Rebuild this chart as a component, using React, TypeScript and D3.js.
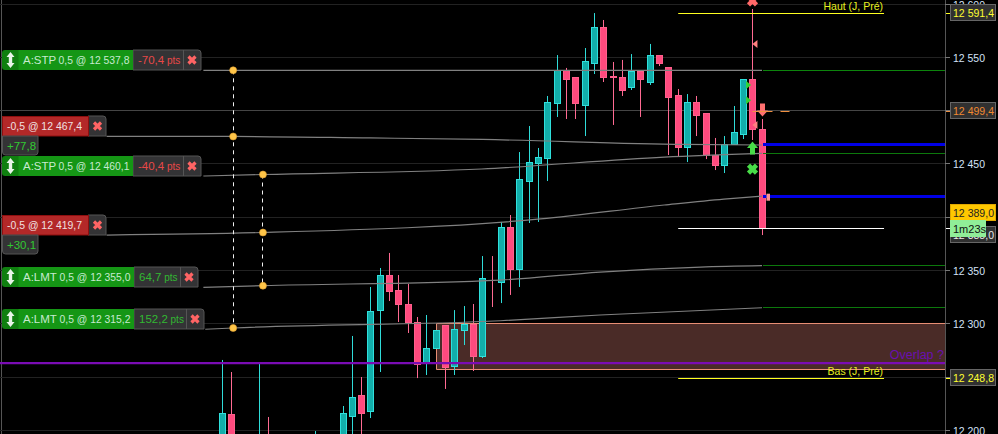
import React from "react";
import * as d3 from "d3";

const W = 998, H = 434;
const FONT = "'Liberation Sans', Arial, sans-serif";

// Candles (bar index, OHLC)
const bars = [0,1,4,5,10,13,14,15,16,17,18,19,20,21,22,23,24,25,26,27,28,29,30,31,32,33,34,35,36,37,38,39,40,41,42,43,44,45,46,47,48,49,50,51,52,53,54,55,56,57,58];
const opens = [12160,12215,12150,12190,12150,12170,12213.4,12232.2,12218.1,12312.8,12345.7,12331.6,12318.5,12301.6,12263.2,12276.3,12298.8,12259.4,12294.1,12299.7,12268.8,12340,12339.1,12390.7,12351.3,12433.9,12450.8,12455.5,12507.1,12538,12530.6,12505.2,12544.6,12578.4,12532.4,12531.5,12521.2,12537.1,12526.8,12552.1,12540,12513.7,12464.9,12508,12497.7,12458.3,12448.9,12467.7,12478,12528.7,12482.7];
const highs = [12266,12254.7,12262.2,12212.5,12199.3,12222.8,12288.5,12250,12334.5,12352.3,12366.4,12345.7,12337.3,12306.3,12308.2,12294.1,12298.8,12312.8,12316.6,12318.5,12363.5,12363.5,12395.5,12402,12461.1,12485.5,12464.9,12513.7,12552.1,12540,12530.6,12558.7,12591.5,12585,12545.6,12547.5,12553,12537.1,12562.5,12552.1,12540,12520.2,12515.5,12513.7,12497.7,12474.3,12476.1,12504.3,12528.7,12595.3,12492.1];
const lows = [12140,12130,12130,12130,12130,12150,12180,12180,12211.5,12254.7,12321.3,12301.6,12291.3,12249,12251.9,12276.3,12238.8,12251.9,12280,12255.6,12267.8,12315.7,12319.4,12327,12334.5,12394.5,12395.5,12433.9,12494,12492.1,12492.1,12476.1,12534.3,12526.8,12486.5,12513.7,12519.3,12494,12524,12541.8,12458.3,12457.4,12451.7,12476.1,12454.5,12444.2,12441.4,12467.7,12473.3,12472.4,12383.2];
const closes = [12215.3,12150,12180,12150,12170,12215.3,12231.2,12215.3,12311.9,12345.7,12330.7,12317.6,12300.7,12262.2,12277.2,12294.1,12258.5,12295,12299.7,12268.8,12342,12340,12390.7,12351.3,12434.9,12451.7,12456.4,12508,12538,12529.6,12506.2,12545.6,12578.4,12530.6,12530.6,12519.3,12537.1,12528.7,12552.1,12544.6,12512.7,12464.9,12508,12495.8,12457.4,12448,12468.6,12479,12528.7,12481.8,12389.8];

// Axis
const axisTicks = [12600, 12550, 12500, 12450, 12400, 12350, 12300, 12250, 12200];
const tickLabels = ["12 600", "12 550", "", "12 450", "", "12 350", "12 300", "", "12 200"];

// Average-like curves ending on order prices: bar position, price
const curveBars = [
  [-2, 11.1, 25, 58],
  [-12.4, 1.2, 15.9, 28, 49.6, 58],
  [-2, 4.4, 27.9, 47.5, 58],
  [-12.4, 4.4, 34.2, 47.5, 53.9, 58],
  [-2, 4.4, 29.9, 40.6, 51.4, 58],
  [-1.8, 1.2, 29.9, 40.6, 58],
];
const curvePrices = [
  [12537.8, 12537.8, 12537.8, 12537.8],
  [12475.7, 12475.7, 12474.3, 12472.9, 12468.2, 12467.7],
  [12438.6, 12440, 12445.2, 12456.4, 12459.9],
  [12383.2, 12385.6, 12398.3, 12411.4, 12417, 12419.8],
  [12334.2, 12335.7, 12341, 12348.5, 12353.2, 12354.5],
  [12294.8, 12296, 12302.8, 12308.2, 12315],
];
const curveExtColors = ["#0c840c", "#0000e6", "#0c780c", "#0000e6", "#0c780c", "#0c780c"];
const curveExtWidth = [1, 3, 1, 3, 1, 1];

// Orders
const orderKinds = ["stp", "fill", "stp", "fill", "lmt", "lmt"];
const orderTypes = ["A:STP", "", "A:STP", "", "A:LMT", "A:LMT"];
const orderLabels = ["0,5 @ 12 537,8", "-0,5 @ 12 467,4", "0,5 @ 12 460,1", "-0,5 @ 12 419,7", "0,5 @ 12 355,0", "0,5 @ 12 315,2"];
const orderAnchors = [12537.8, 12475.7, 12438.6, 12383.2, 12334.2, 12294.8];
const orderNotes = ["-70,4", "+77,8", "-40,4", "+30,1", "64,7", "152,2"];
const noteWidths = [50, 36, 50, 36, 46, 52];

// Level lines
const levelNames = ["Haut (J, Pré)", "", "Bas (J, Pré)"];
const levelPrices = [12591.4, 12389, 12248.8];
const levelColors = ["#ffff20", "#ffffff", "#ffff20"];
const levelBars = [49, 71];

// Zone and overlap
const zoneTop = 12300.5, zoneBottom = 12257.5, zoneStartBar = 23;
const overlapPrice = 12263;

// Dots joined by dashes
const dotBars = [1.2, 1.2, 4.4, 4.4, 4.4, 1.2];
const dotPrices = [12537.8, 12475.7, 12440, 12385.6, 12335.7, 12296];
const dashBars = [1.2, 4.4];
const dashFrom = [12537.8, 12440];
const dashTo = [12296, 12335.7];

// Execution markers
const triBars = [57.4, 56.4, 56.4, 57.4];
const triPrices = [12562.5, 12524, 12509.8, 12486.5];
const triColors = ["#ff8080", "#30d030", "#30d030", "#ff8080"];
const triDirs = [-1, 1, 1, -1];

// Price boxes
const boxTexts = ["12 591,4", "12 499,4", "12 385,0", "12 389,0", "12 248,8"];
const boxPrices = [12591.4, 12499.4, 12383.5, 12404, 12248.8];
const boxFills = ["#303030", "#303030", "#303030", "#ffc800", "#303030"];
const boxInk = ["#ffff30", "#f08a30", "#e8e8e8", "#222222", "#ffff30"];

const x = d3.scaleLinear().domain([0, 58]).range([222, 762]);
const y = d3.scaleLinear().domain([12200, 12600]).range([430.3, 4]);
const px = (b: number) => Math.floor(x(b)) + 0.5;
const py = (p: number) => Math.floor(y(p)) + 0.5;
const RIGHT = 945;

function CloseCell({ cx, cy }: { cx: number; cy: number }) {
  return <path d={`M${cx - 3.5},${cy - 3.5}L${cx + 3.5},${cy + 3.5}M${cx + 3.5},${cy - 3.5}L${cx - 3.5},${cy + 3.5}`} stroke="#ff6464" strokeWidth={3.2} />;
}

function Order({ i }: { i: number }) {
  const kind = orderKinds[i];
  const bottom = Math.round(y(orderAnchors[i]));
  const gray = "#333335";
  const edge = "#555";
  if (kind === "fill") {
    const top = bottom - 20;
    return (
      <g fontFamily={FONT} fontSize={11}>
        <path d={`M88,${top}H103Q106,${top} 106,${top + 3}V${bottom}H88Z`} fill={gray} stroke={edge} />
        <CloseCell cx={97.5} cy={top + 10} />
        <rect x={2.5} y={top + 0.5} width={86} height={19.5} fill="#b32828" stroke="#8e0f0f" />
        <text x={7} y={top + 14} fill="#f0e0e0" textLength={75} lengthAdjust="spacingAndGlyphs">{orderLabels[i]}</text>
        <path d={`M2.5,${bottom}H${2 + noteWidths[i]}V${bottom + 16}Q${2 + noteWidths[i]},${bottom + 19} ${noteWidths[i] - 1},${bottom + 19}H5.5Q2.5,${bottom + 19} 2.5,${bottom + 16}Z`} fill={gray} stroke={edge} />
        <text x={7} y={bottom + 14} fill="#32c832" fontSize={11.5}>{orderNotes[i]}</text>
      </g>
    );
  }
  const top = bottom - 20;
  const lw = 116;
  const nx = 18 + lw - (kind === "stp" ? 1 : 0);
  const cx0 = nx + noteWidths[i];
  const noteColor = orderNotes[i].startsWith("-") ? "#e84848" : "#32b832";
  const mid = top + 10;
  return (
    <g fontFamily={FONT} fontSize={11}>
      <path d={`M${nx},${top}H${cx0 + 15}Q${cx0 + 18},${top} ${cx0 + 18},${top + 3}V${bottom}H${nx}Z`} fill={gray} stroke={edge} />
      <line x1={cx0 + 0.5} x2={cx0 + 0.5} y1={top} y2={bottom} stroke={edge} />
      <CloseCell cx={cx0 + 9} cy={mid} />
      <path d={`M18,${top}H${nx}V${bottom}H18Z`} fill="#159615" />
      <path d={`M18.5,${top}H5Q2,${top} 2,${top + 3}V${bottom - 3}Q2,${bottom} 5,${bottom}H18.5Z`} fill="#0f7f0f" />
      <path d={`M10.5,${top + 2}L14.5,${top + 7}H12.2V${bottom - 7}H14.5L10.5,${bottom - 2}L6.5,${bottom - 7}H8.8V${top + 7}H6.5Z`} fill="#e8f4e8" />
      <text x={23} y={top + 14} fill="#c6ead0" fontSize={11.5}>{orderTypes[i]}</text>
      <text x={kind === "stp" ? 58.5 : 59.5} y={top + 14} fill="#c6ead0" textLength={71} lengthAdjust="spacingAndGlyphs">{orderLabels[i]}</text>
      <text x={nx + 5} y={top + 14} fill={noteColor} fontSize={11.5}>
        {orderNotes[i]}<tspan fontSize={10}> pts</tspan>
      </text>
    </g>
  );
}

export default function App() {
  const curve = d3.line<[number, number]>().x((d) => x(d[0])).y((d) => y(d[1])).curve(d3.curveMonotoneX);
  return (
    <div style={{ position: "fixed", left: 0, top: 0, width: W, height: H, background: "#000", overflow: "hidden" }}>
      <svg width={W} height={H} style={{ display: "block" }} fontFamily={FONT}>
        <rect width={W} height={H} fill="#000" />
        <line x1={1.5} x2={1.5} y1={0} y2={H} stroke="#555" />
        {axisTicks.map((t) => (
          <line key={t} x1={0} x2={950} y1={py(t)} y2={py(t)} stroke={t === 12500 ? "#454545" : "#222"} />
        ))}
        <rect x={px(zoneStartBar)} y={py(zoneTop)} width={RIGHT - px(zoneStartBar)} height={py(zoneBottom) - py(zoneTop)} fill="#4a2b27" />
        <path d={`M${RIGHT},${py(zoneTop)}H${px(zoneStartBar)}V${py(zoneBottom)}H${RIGHT}`} fill="none" stroke="#e88e74" />

        {bars.map((b, i) => {
          const up = closes[i] >= opens[i] && b !== 29;
          const fill = up ? "#12aeaa" : "#ff4a7e";
          const edge = up ? "#2fe0dc" : "#ff5f8c";
          const wick = up ? "#2fdcd8" : "#ff6a92";
          const top = py(Math.max(opens[i], closes[i]));
          const bot = py(Math.min(opens[i], closes[i]));
          return (
            <g key={b}>
              <line x1={px(b)} x2={px(b)} y1={y(highs[i])} y2={y(lows[i])} stroke={wick} />
              {bot > top && <rect x={px(b) - 3} y={top} width={6} height={bot - top} fill={fill} stroke={edge} />}
            </g>
          );
        })}

        <line x1={0} x2={RIGHT} y1={y(overlapPrice)} y2={y(overlapPrice)} stroke="#7a0cb4" strokeWidth={2.4} />

        {curveBars.map((cb, i) => {
          const pts = cb.map((b, j) => [b, curvePrices[i][j]] as [number, number]);
          const lastP = curvePrices[i][curvePrices[i].length - 1];
          return (
            <g key={i}>
              <path d={curve(pts) || ""} fill="none" stroke="#808080" strokeWidth={1.2} />
              <line x1={px(58) + 0.5} x2={RIGHT} y1={py(lastP)} y2={py(lastP)} stroke={curveExtColors[i]} strokeWidth={curveExtWidth[i]} />
            </g>
          );
        })}

        {levelPrices.map((p, i) => (
          <g key={i}>
            <line x1={x(levelBars[0])} x2={x(levelBars[1]) + 1} y1={py(p)} y2={py(p)} stroke={levelColors[i]} />
            {levelNames[i] && (
              <text x={883} y={py(p) - 4} textAnchor="end" fontSize={10.5} fill="#e8f020">{levelNames[i]}</text>
            )}
          </g>
        ))}
        <text x={944} y={y(overlapPrice) - 4.5} textAnchor="end" fontSize={12.5} fill="#6a0fb0">Overlap ?</text>

        {dashBars.map((b, i) => (
          <line key={i} x1={px(b)} x2={px(b)} y1={y(dashFrom[i])} y2={y(dashTo[i])} stroke="#f0f0f0" strokeDasharray="4 4" />
        ))}
        {dotBars.map((b, i) => (
          <circle key={i} cx={x(b)} cy={y(dotPrices[i])} r={3.5} fill="#ffc548" stroke="#e0a030" strokeWidth={0.6} />
        ))}

        {orderKinds.map((_, i) => <Order key={i} i={i} />)}

        {triBars.map((b, i) => {
          const cx = x(b), cy = y(triPrices[i]), d = triDirs[i];
          return <path key={i} d={`M${cx + 4 * d},${cy}L${cx - 1 * d},${cy - 4}V${cy + 4}Z`} fill={triColors[i]} />;
        })}
        {(() => {
          const cx = px(57), cxL = px(58);
          const cross = (c: number, yy: number, col: string, r: number, sw: number) => (
            <path d={`M${c - r},${yy - r}L${c + r},${yy + r}M${c + r},${yy - r}L${c - r},${yy + r}`} stroke={col} strokeWidth={sw} />
          );
          const yUp = y(12465), yDown = y(12500);
          return (
            <g>
              {cross(cx, y(12603), "#ff6868", 4, 4.5)}
              {cross(cx, y(12445), "#48dc48", 4, 4.5)}
              <path d={`M${cx},${yUp - 6.5}L${cx + 5.5},${yUp}H${cx + 2.5}V${yUp + 6.5}H${cx - 2.5}V${yUp}H${cx - 5.5}Z`} fill="#48dc48" />
              <path d={`M${cxL},${yDown + 6}L${cxL + 5.5},${yDown}H${cxL + 2.5}V${yDown - 7}H${cxL - 2.5}V${yDown}H${cxL - 5.5}Z`} fill="#ff7070" />
              <line x1={cx} x2={cx + 20} y1={py(12499.4)} y2={py(12499.4)} stroke="#f09040" />
              <line x1={cx + 28} x2={cx + 37} y1={py(12499.4)} y2={py(12499.4)} stroke="#f09040" />
              <rect x={cxL + 4} y={y(12422)} width={3.5} height={7} fill="#ff9090" />
            </g>
          );
        })()}

        <line x1={RIGHT + 0.5} x2={RIGHT + 0.5} y1={0} y2={H} stroke="#555" />
        {axisTicks.map((t) => (
          <line key={t} x1={RIGHT} x2={950} y1={py(t)} y2={py(t)} stroke="#777" />
        ))}
        {levelPrices.map((p, i) => (
          <line key={i} x1={RIGHT + 1} x2={950} y1={py(p)} y2={py(p)} stroke={levelColors[i]} />
        ))}
        <line x1={RIGHT + 1} x2={950} y1={py(12499.4)} y2={py(12499.4)} stroke="#f09040" />
        {axisTicks.map((t, i) => tickLabels[i] && (
          <text key={t} x={953} y={y(t) + 4.5} fontSize={11} fill="#d4e2f8" textLength={32} lengthAdjust="spacingAndGlyphs">{tickLabels[i]}</text>
        ))}

        {boxTexts.map((t, i) => {
          const cy = Math.round(y(boxPrices[i]));
          return (
            <g key={i}>
              <rect x={950.5} y={cy - 8.5} width={45} height={16} fill={boxFills[i]} stroke={boxFills[i] === "#ffc800" ? "#e0a800" : "#666"} />
              <text x={953} y={cy + 4} fontSize={11} fill={boxInk[i]} textLength={41} lengthAdjust="spacingAndGlyphs">{t}</text>
            </g>
          );
        })}
        <rect x={950} y={220} width={36} height={17} fill="#90ee98" />
        <text x={953} y={233} fontSize={11} fill="#111">1m23s</text>
      </svg>
    </div>
  );
}
